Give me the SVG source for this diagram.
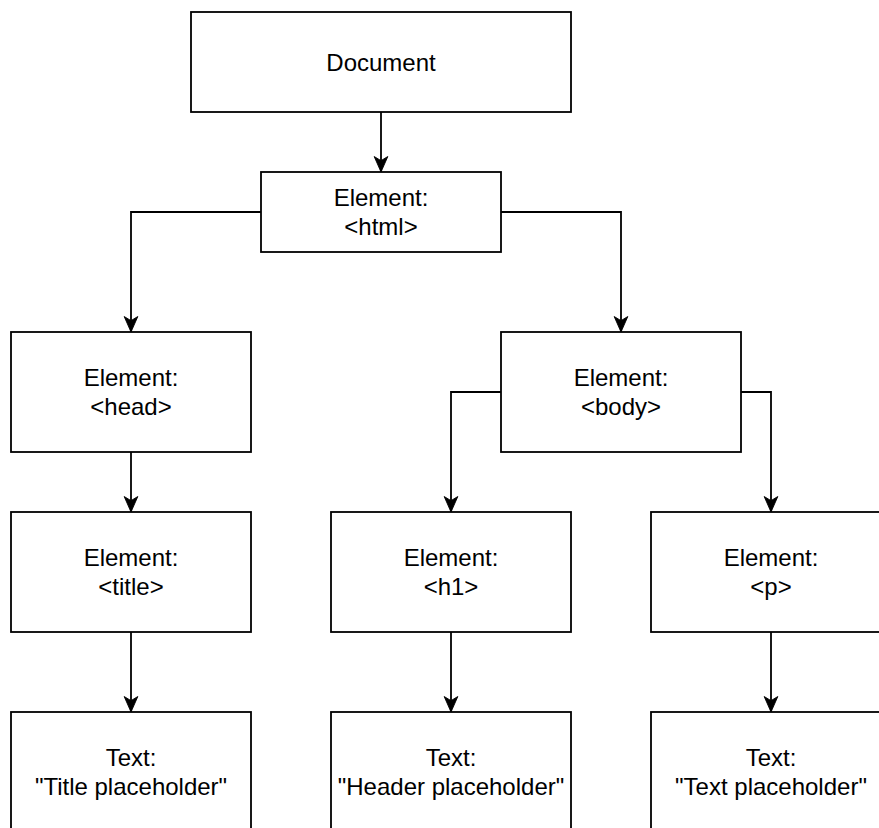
<svg xmlns="http://www.w3.org/2000/svg" width="879" height="828" viewBox="0 0 879 828">
<style>
.box{fill:#fff;stroke:#000;stroke-width:1.8}
.lbl{font-family:"Liberation Sans",Arial,sans-serif;font-size:24px;fill:#000;text-anchor:middle}
.edge{fill:none;stroke:#000;stroke-width:1.8}
</style>
<defs>
<marker id="arr" markerUnits="userSpaceOnUse" markerWidth="20" markerHeight="20" viewBox="-10 -20 20 22" refX="0" refY="0" orient="auto-start-reverse" overflow="visible">
<path d="M0,0 L-7.5,-17 L0,-12.5 L7.5,-17 Z" fill="#000" stroke="#000" stroke-width="1" transform="rotate(-90)"/>
</marker>
</defs>
<rect width="879" height="828" fill="#fff"/>
<g id="connectors">
<path class="edge" d="M381,112 V172" marker-end="url(#arr)"/>
<path class="edge" d="M261,212 H131 V332" marker-end="url(#arr)"/>
<path class="edge" d="M501,212 H621 V332" marker-end="url(#arr)"/>
<path class="edge" d="M131,452 V512" marker-end="url(#arr)"/>
<path class="edge" d="M131,632 V712" marker-end="url(#arr)"/>
<path class="edge" d="M501,392 H451 V512" marker-end="url(#arr)"/>
<path class="edge" d="M741,392 H771 V512" marker-end="url(#arr)"/>
<path class="edge" d="M451,632 V712" marker-end="url(#arr)"/>
<path class="edge" d="M771,632 V712" marker-end="url(#arr)"/>
</g>
<g id="document"><rect class="box" x="191" y="12" width="380" height="100"/><text class="lbl" x="381" y="71">Document</text></g>
<g id="html"><rect class="box" x="261" y="172" width="240" height="80"/><text class="lbl" x="381" y="206">Element:</text><text class="lbl" x="381" y="235">&lt;html&gt;</text></g>
<g id="head"><rect class="box" x="11" y="332" width="240" height="120"/><text class="lbl" x="131" y="386">Element:</text><text class="lbl" x="131" y="415">&lt;head&gt;</text></g>
<g id="body"><rect class="box" x="501" y="332" width="240" height="120"/><text class="lbl" x="621" y="386">Element:</text><text class="lbl" x="621" y="415">&lt;body&gt;</text></g>
<g id="title"><rect class="box" x="11" y="512" width="240" height="120"/><text class="lbl" x="131" y="566">Element:</text><text class="lbl" x="131" y="595">&lt;title&gt;</text></g>
<g id="h1"><rect class="box" x="331" y="512" width="240" height="120"/><text class="lbl" x="451" y="566">Element:</text><text class="lbl" x="451" y="595">&lt;h1&gt;</text></g>
<g id="p"><rect class="box" x="651" y="512" width="240" height="120"/><text class="lbl" x="771" y="566">Element:</text><text class="lbl" x="771" y="595">&lt;p&gt;</text></g>
<g id="text-title"><rect class="box" x="11" y="712" width="240" height="120"/><text class="lbl" x="131" y="766">Text:</text><text class="lbl" x="131" y="795">"Title placeholder"</text></g>
<g id="text-header"><rect class="box" x="331" y="712" width="240" height="120"/><text class="lbl" x="451" y="766">Text:</text><text class="lbl" x="451" y="795">"Header placeholder"</text></g>
<g id="text-p"><rect class="box" x="651" y="712" width="240" height="120"/><text class="lbl" x="771" y="766">Text:</text><text class="lbl" x="771" y="795">"Text placeholder"</text></g>
</svg>
